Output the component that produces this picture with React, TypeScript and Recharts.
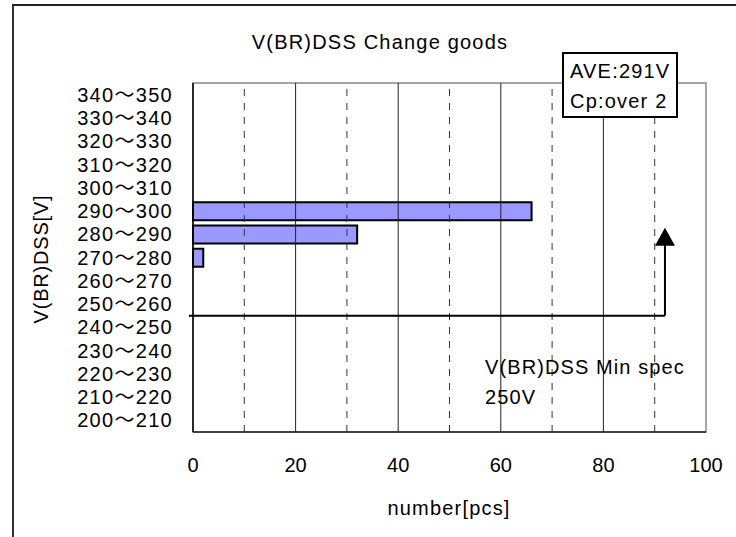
import React from "react";
import { Bar, BarChart, ReferenceArea, ReferenceLine, XAxis, YAxis } from "recharts";

const ranges = [
  "340～350", "330～340", "320～330", "310～320", "300～310",
  "290～300", "280～290", "270～280", "260～270", "250～260",
  "240～250", "230～240", "220～230", "210～220", "200～210",
];
const counts = [0, 0, 0, 0, 0, 66, 32, 2, 0, 0, 0, 0, 0, 0, 0];

const xTicks = [0, 20, 40, 60, 80, 100];
const solidGrid = [20, 40, 60, 80];
const dashedGrid = [10, 30, 50, 70, 90];

// min spec 250V sits at the lower edge of the 250～260 band
const specRange = "250～260";
const arrowX = 92;
const arrowTopRange = "280～290";

const data = ranges.map((range, i) => ({ range, count: counts[i] }));

const FONT = "'Liberation Sans', 'Noto Sans CJK JP', sans-serif";

function SpecArrow(p: any) {
  const { x1, y1, x2, y2 } = p;
  return (
    <g>
      <line x1={x1} y1={y1} x2={x2} y2={y2 - 2} stroke="#000" strokeWidth={2} />
      <polygon points={`${x2 - 10},${y2} ${x2 + 10},${y2} ${x2},${y2 - 18}`} fill="#000" />
    </g>
  );
}

export default function App() {
  const txt: React.CSSProperties = { position: "absolute", fontFamily: FONT, color: "#000", whiteSpace: "nowrap" };
  return (
    <div style={{ position: "absolute", left: 0, top: 0, width: 736, height: 537, background: "#fff", overflow: "hidden" }}>
      <div style={{ position: "absolute", left: 12, top: 4, width: 740, height: 540, borderTop: "2px solid #222", borderLeft: "2px solid #333" }} />
      <BarChart
        width={736}
        height={537}
        data={data}
        layout="vertical"
        margin={{ top: 83, right: 30, bottom: 75, left: 13 }}
        barSize={18}
        style={{ position: "absolute", left: 0, top: 0 }}
      >
        <ReferenceArea x1={0} x2={100} fill="none" stroke="#888" strokeWidth={1.5} ifOverflow="visible" />
        {dashedGrid.map((v) => (
          <ReferenceLine key={`d${v}`} x={v} stroke="#333" strokeDasharray="7 7" />
        ))}
        {solidGrid.map((v) => (
          <ReferenceLine key={`s${v}`} x={v} stroke="#222" />
        ))}
        <XAxis
          type="number"
          domain={[0, 100]}
          ticks={xTicks}
          height={30}
          axisLine={{ stroke: "#222", strokeWidth: 1.5 }}
          tickLine={false}
          tickSize={20}
          tickMargin={6}
          tick={{ fill: "#000", fontSize: 20, fontFamily: FONT }}
        />
        <YAxis
          type="category"
          dataKey="range"
          width={180}
          interval={0}
          axisLine={{ stroke: "#000", strokeWidth: 1.5 }}
          tickLine={false}
          tickSize={20}
          tickMargin={0}
          tick={{ fill: "#000", fontSize: 20, fontFamily: FONT, letterSpacing: 1.3 }}
        />
        <Bar dataKey="count" fill="#9999ff" stroke="#000" strokeWidth={2} isAnimationActive={false} />
        <ReferenceLine
          segment={[{ x: -0.8, y: specRange }, { x: arrowX, y: specRange }]}
          position="end"
          stroke="#000"
          strokeWidth={2}
          ifOverflow="visible"
        />
        <ReferenceLine
          segment={[{ x: arrowX, y: specRange }, { x: arrowX, y: arrowTopRange }]}
          position="end"
          ifOverflow="visible"
          shape={SpecArrow}
        />
      </BarChart>
      <div style={{ ...txt, left: 380, top: 42, transform: "translate(-50%,-50%)", fontSize: 20, letterSpacing: 1.2 }}>
        V(BR)DSS Change goods
      </div>
      <div
        style={{
          ...txt, left: 562, top: 52, width: 116, height: 66, border: "2px solid #000", background: "#fff",
          fontSize: 20, lineHeight: "30px", paddingLeft: 6, paddingTop: 2, boxSizing: "border-box", letterSpacing: 1.2,
        }}
      >
        <div>AVE:291V</div>
        <div>Cp:over 2</div>
      </div>
      <div style={{ ...txt, left: 485, top: 352, fontSize: 20, lineHeight: "30px", letterSpacing: 1.1 }}>
        <div>V(BR)DSS Min spec</div>
        <div>250V</div>
      </div>
      <div style={{ ...txt, left: 449, top: 508, transform: "translate(-50%,-50%)", fontSize: 20, letterSpacing: 1.2 }}>
        number[pcs]
      </div>
      <div style={{ ...txt, left: 41, top: 259, transform: "translate(-50%,-50%) rotate(-90deg)", fontSize: 20, letterSpacing: 0.8 }}>
        V(BR)DSS[V]
      </div>
    </div>
  );
}
